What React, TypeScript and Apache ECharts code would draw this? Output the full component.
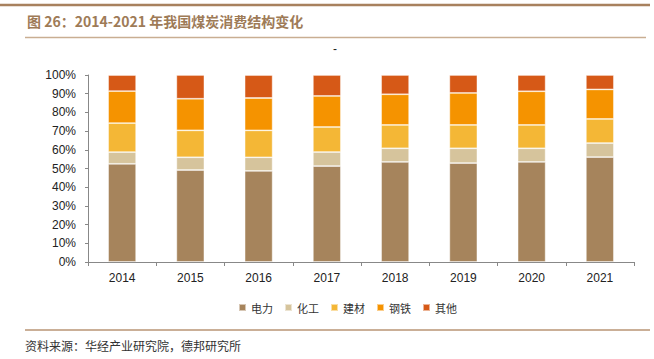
import React, { useEffect, useRef } from "react";
import * as echarts from "echarts";

const categories = ["2014", "2015", "2016", "2017", "2018", "2019", "2020", "2021"];
const seriesNames = ["电力", "化工", "建材", "钢铁", "其他"];
const power = [52.5, 49.2, 48.7, 51.3, 53.5, 52.9, 53.5, 56.1];
const chemical = [6.3, 6.8, 7.3, 7.5, 7.3, 7.9, 7.3, 7.5];
const building = [15.5, 14.4, 14.4, 13.4, 12.5, 12.5, 12.5, 12.9];
const steel = [17.1, 16.9, 17.3, 16.6, 16.4, 17.1, 18.0, 15.8];
const others = [8.6, 12.7, 12.3, 11.2, 10.3, 9.6, 8.7, 7.7];
const colors = ["#A6845C", "#D6C49C", "#F4B736", "#F59300", "#D65917"];
const yTicks = [0, 10, 20, 30, 40, 50, 60, 70, 80, 90, 100];

const titleText = "图 26：2014-2021 年我国煤炭消费结构变化";
const sourceText = "资料来源：华经产业研究院，德邦研究所";

export default function App() {
  const ref = useRef<HTMLDivElement>(null);
  useEffect(() => {
    if (!ref.current) return;
    const chart = echarts.init(ref.current, null, { renderer: "svg" });
    const data = [power, chemical, building, steel, others];
    chart.setOption({
      animation: false,
      color: colors,
      grid: { left: 88, right: 20, top: 75, bottom: 97, containLabel: false },
      legend: {
        data: seriesNames,
        left: 233,
        top: 297,
        itemWidth: 7,
        itemHeight: 7,
        itemGap: 11,
        icon: "rect",
        textStyle: { fontSize: 11, color: "#333", fontFamily: "Noto Sans CJK SC" },
      },
      xAxis: {
        type: "category",
        data: categories,
        axisLine: { lineStyle: { color: "#888", width: 1 } },
        axisTick: { show: true, length: 4, alignWithLabel: false, lineStyle: { color: "#888" } },
        axisLabel: { fontSize: 12, color: "#222", margin: 10, fontFamily: "Liberation Sans" },
      },
      yAxis: {
        type: "value",
        min: 0,
        max: 100,
        interval: 10,
        splitLine: { show: false },
        axisLine: { show: true, lineStyle: { color: "#888", width: 1 } },
        axisTick: { show: true, length: 3, lineStyle: { color: "#888" } },
        axisLabel: {
          fontSize: 12,
          color: "#222",
          margin: 12,
          fontFamily: "Liberation Sans",
          formatter: (v: number) => (yTicks.includes(v) ? v + "%" : ""),
        },
      },
      graphic: [
        { type: "line", shape: { x1: 0, y1: 5, x2: 650, y2: 5 }, style: { stroke: "#A8815E", lineWidth: 2.5 } },
        { type: "line", shape: { x1: 25, y1: 37.5, x2: 646, y2: 37.5 }, style: { stroke: "#C9AE92", lineWidth: 1.5 } },
        {
          type: "text",
          x: 27,
          y: 21,
          style: {
            text: titleText,
            fill: "#9E7B57",
            font: "bold 14px 'Noto Sans CJK SC', sans-serif",
            verticalAlign: "middle",
          },
        },
        {
          type: "text",
          x: 335,
          y: 49,
          style: { text: "-", fill: "#222", font: "12px 'Liberation Sans'", align: "center", verticalAlign: "middle" },
        },
        { type: "line", shape: { x1: 25, y1: 330, x2: 650, y2: 330 }, style: { stroke: "#B89574", lineWidth: 1.5 } },
        {
          type: "text",
          x: 25,
          y: 345,
          style: {
            text: sourceText,
            fill: "#333",
            font: "12px 'Noto Sans CJK SC', sans-serif",
            verticalAlign: "middle",
          },
        },
      ],
      series: seriesNames.map((name, i) => ({
        name,
        type: "bar",
        stack: "total",
        barWidth: 28,
        data: data[i],
        itemStyle: { color: colors[i], borderColor: "rgba(255,255,255,0.55)", borderWidth: 0.8 },
      })),
    });
    return () => chart.dispose();
  }, []);
  return <div ref={ref} style={{ width: 654, height: 359, position: "absolute", left: 0, top: 0 }} />;
}
